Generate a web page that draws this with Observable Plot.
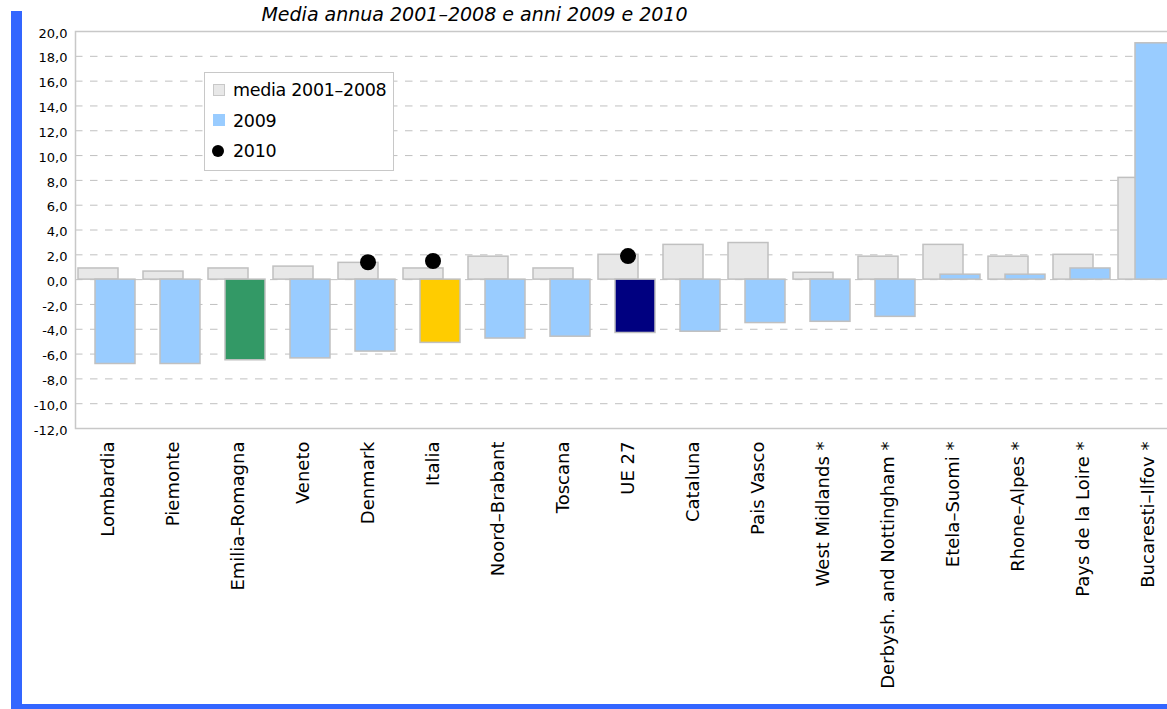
<!DOCTYPE html>
<html>
<head>
<meta charset="utf-8">
<script src="https://cdn.jsdelivr.net/npm/d3@7"></script>
<script src="https://cdn.jsdelivr.net/npm/@observablehq/plot@0.6"></script>
<style>
  html, body { margin: 0; padding: 0; background: #fff; overflow: hidden; }
  #wrap { position: relative; width: 1167px; height: 709px; overflow: hidden; background: #fff; font-family: "DejaVu Sans", sans-serif; }
  #chart { position: absolute; left: 0; top: 0; }
  #bluebox { position: absolute; left: 11px; top: 11px; width: 1200px; height: 698px; box-sizing: border-box;
             border-left: 11px solid #3366FF; border-bottom: 5px solid #3366FF; pointer-events: none; }
  #title { position: absolute; left: 0; top: 2px; width: 949px; text-align: center; font-family: "DejaVu Sans", sans-serif;
           font-style: italic; font-size: 19px; line-height: 24px; color: #000; white-space: nowrap; }
  #legend { position: absolute; left: 204px; top: 72px; width: 190px; height: 99px; box-sizing: border-box;
            border: 1px solid #C8C8C8; background: #fff; overflow: hidden; }
  #legend .lab { position: absolute; left: 28px; font-size: 17.5px; line-height: 20px; white-space: nowrap; color: #000; letter-spacing: -0.3px; }
  #legend .sw { position: absolute; left: 8px; width: 12px; height: 12px; box-sizing: border-box; }
</style>
</head>
<body>
<div id="wrap">
  <div id="chart"></div>
  <div id="bluebox"></div>
  <div id="title">Media annua 2001–2008 e anni 2009 e 2010</div>
  <div id="legend"></div>
</div>
<script>
// ---- data ----
const categories = ["Lombardia", "Piemonte", "Emilia–Romagna", "Veneto", "Denmark", "Italia", "Noord–Brabant",
  "Toscana", "UE 27", "Cataluna", "Pais Vasco", "West Midlands *", "Derbysh. and Nottingham *",
  "Etela–Suomi *", "Rhone–Alpes *", "Pays de la Loire *", "Bucaresti–Ilfov *"];
const media20012008 = [0.9, 0.65, 0.9, 1.05, 1.35, 0.9, 1.85, 0.9, 2.0, 2.8, 2.95, 0.55, 1.85, 2.8, 1.85, 2.0, 8.2];
const values2009 = [-6.8, -6.8, -6.5, -6.35, -5.8, -5.1, -4.75, -4.6, -4.3, -4.2, -3.5, -3.4, -3.0, 0.4, 0.4, 0.9, 19.05];
const categories2010 = ["Denmark", "Italia", "UE 27"];
const values2010 = [1.4, 1.5, 1.9];
const yTicks = [20, 18, 16, 14, 12, 10, 8, 6, 4, 2, 0, -2, -4, -6, -8, -10, -12];
const seriesNames = ["media 2001–2008", "2009", "2010"];

// ---- styles ----
const highlight = {"Emilia–Romagna": "#339966", "Italia": "#FFCC00", "UE 27": "#000080"};
const base2009 = "#99CCFF";

const rows = categories.map((c, i) => ({cat: c, media: media20012008[i], v2009: values2009[i]}));
const rows2010 = categories2010.map((c, i) => ({cat: c, v: values2010[i]}));
const grid = yTicks.filter(t => t !== 20 && t !== -12);

const plot = Plot.plot({
  width: 1180,
  height: 709,
  marginLeft: 75,
  marginRight: 0,
  marginTop: 31,
  marginBottom: 281,
  style: {maxWidth: "none", background: "transparent", overflow: "visible", fontFamily: "DejaVu Sans"},
  x: {domain: categories, padding: 0, axis: null, label: null},
  y: {domain: [-12, 20], axis: null, label: null},
  marks: [
    Plot.ruleY(grid, {stroke: "#C0C0C0", strokeWidth: 1, strokeDasharray: "7.5,7.5"}),
    Plot.barY(rows, {x: "cat", y: "media", insetLeft: 3, insetRight: 22, fill: "#E8E8E8", stroke: "#C0C0C0", strokeWidth: 1.5}),
    Plot.barY(rows, {x: "cat", y: "v2009", insetLeft: 20, insetRight: 5,
      fill: d => highlight[d.cat] ?? base2009, stroke: "#C0C0C0", strokeWidth: 1.5}),
    Plot.dot(rows2010, {x: "cat", y: "v", r: 8, fill: "#000", stroke: "none"}),
    Plot.frame({stroke: "#C8C8C8", strokeWidth: 1.5}),
    Plot.axisY({ticks: yTicks, tickSize: 0, tickPadding: 8, fontSize: 13, fontFamily: "DejaVu Sans", letterSpacing: "-0.4px",
      tickFormat: d => d.toFixed(1).replace(".", ","), dy: 2, label: null}),
    Plot.axisX({tickRotate: -90, tickSize: 0, tickPadding: 13, fontSize: 18, fontFamily: "DejaVu Sans", letterSpacing: "-0.2px", label: null})
  ]
});
document.getElementById("chart").appendChild(plot);

// ---- legend ----
const legend = document.getElementById("legend");
const swStyles = [
  "top:11px;background:#E8E8E8;border:1px solid #C8C8C8;",
  "top:41px;background:#99CCFF;",
  "top:72px;left:7px;background:#000;border-radius:50%;"
];
const labTops = [7, 38, 68];
seriesNames.forEach((name, i) => {
  const sw = document.createElement("div");
  sw.className = "sw";
  sw.setAttribute("style", swStyles[i]);
  legend.appendChild(sw);
  const lab = document.createElement("div");
  lab.className = "lab";
  lab.style.top = labTops[i] + "px";
  lab.textContent = name;
  legend.appendChild(lab);
});
</script>
</body>
</html>
